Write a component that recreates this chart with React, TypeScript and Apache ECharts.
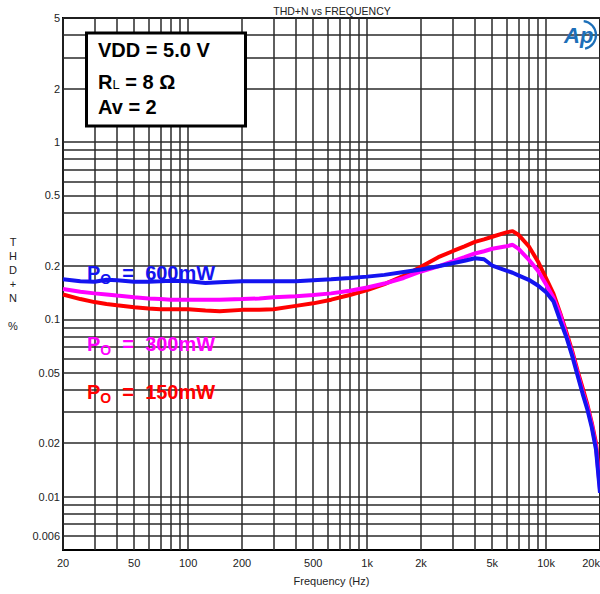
import React, { useEffect, useRef } from 'react';
import * as echarts from 'echarts';

const freqHz = [20, 25, 30, 35, 40, 50, 60, 70, 80, 100, 125, 150, 200, 250, 300, 400, 500, 630, 800, 1000, 1250, 1600, 2000, 2500, 3000, 3500, 4000, 4500, 5000, 6000, 6500, 7000, 8000, 9000, 10000, 11000, 12000, 13000, 14000, 15000, 16000, 17000, 18000, 19000, 20000];
const thd600 = [0.168, 0.164, 0.163, 0.167, 0.166, 0.163, 0.163, 0.164, 0.165, 0.164, 0.160, 0.162, 0.164, 0.164, 0.164, 0.164, 0.166, 0.168, 0.171, 0.174, 0.178, 0.185, 0.191, 0.199, 0.207, 0.214, 0.221, 0.218, 0.201, 0.188, 0.183, 0.177, 0.167, 0.155, 0.142, 0.126, 0.098, 0.079, 0.062, 0.048, 0.038, 0.031, 0.0245, 0.0184, 0.0105];
const thd300 = [0.148, 0.143, 0.140, 0.138, 0.136, 0.133, 0.131, 0.130, 0.129, 0.129, 0.129, 0.129, 0.130, 0.131, 0.133, 0.135, 0.137, 0.140, 0.145, 0.151, 0.159, 0.171, 0.186, 0.199, 0.212, 0.224, 0.235, 0.242, 0.250, 0.258, 0.263, 0.250, 0.217, 0.188, 0.157, 0.132, 0.106, 0.081, 0.064, 0.0495, 0.039, 0.032, 0.0253, 0.019, 0.0110];
const thd150 = [0.138, 0.130, 0.125, 0.122, 0.120, 0.117, 0.115, 0.114, 0.114, 0.114, 0.112, 0.111, 0.113, 0.113, 0.114, 0.119, 0.123, 0.129, 0.137, 0.146, 0.158, 0.176, 0.198, 0.224, 0.242, 0.258, 0.273, 0.282, 0.292, 0.309, 0.314, 0.300, 0.258, 0.212, 0.170, 0.139, 0.108, 0.084, 0.066, 0.051, 0.041, 0.033, 0.026, 0.020, 0.0118];

const xGridValues = [20, 30, 40, 50, 60, 70, 80, 90, 100, 200, 300, 400, 500, 600, 700, 800, 900, 1000, 2000, 3000, 4000, 5000, 6000, 7000, 8000, 9000, 10000, 20000];
const yGridValues = [0.006, 0.007, 0.008, 0.009, 0.01, 0.02, 0.03, 0.04, 0.05, 0.06, 0.07, 0.08, 0.09, 0.1, 0.2, 0.3, 0.4, 0.5, 0.6, 0.7, 0.8, 0.9, 1, 2, 3, 4, 5];
const xTickValues = [20, 50, 100, 200, 500, 1000, 2000, 5000, 10000, 20000];
const xTickTexts = ['20', '50', '100', '200', '500', '1k', '2k', '5k', '10k', '20k'];
const yTickValues = [5, 2, 1, 0.5, 0.2, 0.1, 0.05, 0.02, 0.01, 0.006];
const yTickTexts = ['5', '2', '1', '0.5', '0.2', '0.1', '0.05', '0.02', '0.01', '0.006'];

const FONT = "'Liberation Sans', Arial, sans-serif";
const BLUE = '#1414f0';
const MAGENTA = '#ff00ff';
const RED = '#ff0000';

function pairs(values: number[]) {
  return freqHz.map((f, i) => [f, values[i]]);
}

export default function App() {
  const ref = useRef<HTMLDivElement>(null);
  useEffect(() => {
    const chart = echarts.init(ref.current!, null, { renderer: 'svg' });
    const axisLabelStyle = { color: '#222', fontSize: 11, fontFamily: FONT };
    const xLines = xGridValues.map((v) => {
      const idx = xTickValues.indexOf(v);
      return {
        xAxis: v,
        label: idx >= 0
          ? { show: true, formatter: xTickTexts[idx], position: 'start', distance: 7, ...axisLabelStyle, ...(v === 20000 ? { align: 'right' } : {}) }
          : { show: false },
      };
    });
    const yLines = yGridValues.map((v) => {
      const idx = yTickValues.indexOf(v);
      return {
        yAxis: v,
        label: idx >= 0
          ? { show: true, formatter: yTickTexts[idx], position: 'start', distance: 3, ...axisLabelStyle }
          : { show: false },
      };
    });
    const pLabel = (y: number, value: string, color: string) => ({
      type: 'text',
      x: 87,
      y,
      z: 100,
      style: {
        text: '{p|P}{s|O}{p|  =  ' + value + '}',
        fill: color,
        align: 'left',
        verticalAlign: 'top',
        rich: {
          p: { fontSize: 20, lineHeight: 20, fontWeight: 'bold', fontFamily: FONT, fill: color, verticalAlign: 'top' },
          s: { fontSize: 14, lineHeight: 14, fontWeight: 'bold', fontFamily: FONT, fill: color, verticalAlign: 'top', padding: [9, 0, 0, 0] },
        },
      },
    });
    chart.setOption({
      animation: false,
      backgroundColor: '#fff',
      title: {
        text: 'THD+N vs FREQUENCY',
        left: 332,
        top: 5,
        padding: 0,
        textAlign: 'center',
        textStyle: { fontSize: 10.5, fontWeight: 'normal', color: '#222', fontFamily: FONT },
      },
      grid: { left: 63, right: 0, top: 18, bottom: 44, show: true, borderColor: '#000', borderWidth: 2, backgroundColor: 'transparent', outerBoundsMode: 'none' },
      xAxis: {
        type: 'log',
        logBase: 10,
        min: 20,
        max: 20000,
        axisLine: { show: false },
        axisTick: { show: false },
        axisLabel: { show: false },
        splitLine: { show: false },
        name: 'Frequency (Hz)',
        nameLocation: 'middle',
        nameGap: 25,
        nameTextStyle: { color: '#222', fontSize: 11, fontFamily: FONT },
      },
      yAxis: {
        type: 'log',
        logBase: 10,
        min: 0.005,
        max: 5,
        axisLine: { show: false },
        axisTick: { show: false },
        axisLabel: { show: false },
        splitLine: { show: false },
        name: 'T\nH\nD\n+\nN\n\n%',
        nameLocation: 'middle',
        nameRotate: 0,
        nameGap: 50,
        nameTextStyle: { color: '#222', fontSize: 11, fontFamily: FONT, lineHeight: 14, align: 'center', verticalAlign: 'middle' },
      },
      series: [
        {
          name: 'grid',
          type: 'line',
          data: [],
          clip: false,
          silent: true,
          z: 1,
          markLine: {
            silent: true,
            z: 1,
            precision: 6,
            symbol: ['none', 'none'],
            animation: false,
            lineStyle: { color: '#2a2a2a', width: 1.5, type: 'solid' },
            emphasis: { disabled: true },
            label: { show: false },
            data: [...xLines, ...yLines],
          },
        },
        { name: 'Po = 150mW', type: 'line', data: pairs(thd150), showSymbol: false, symbol: 'none', lineStyle: { color: RED, width: 4 }, z: 3 },
        { name: 'Po = 300mW', type: 'line', data: pairs(thd300), showSymbol: false, symbol: 'none', lineStyle: { color: MAGENTA, width: 4 }, z: 4 },
        { name: 'Po = 600mW', type: 'line', data: pairs(thd600), showSymbol: false, symbol: 'none', lineStyle: { color: BLUE, width: 4 }, z: 5 },
      ],
      graphic: [
        { type: 'rect', z: 100, shape: { x: 86.5, y: 33, width: 159, height: 93 }, style: { fill: '#fff', stroke: '#000', lineWidth: 3 } },
        { type: 'text', z: 101, x: 98, y: 40, style: { text: 'VDD = 5.0 V', fill: '#000', fontSize: 20, fontWeight: 'bold', fontFamily: FONT, verticalAlign: 'top', lineHeight: 20 } },
        {
          type: 'text', z: 101, x: 98, y: 72,
          style: {
            text: '{p|R}{s|L}{p| = 8 Ω}', verticalAlign: 'top',
            rich: {
              p: { fontSize: 20, lineHeight: 20, fontWeight: 'bold', fontFamily: FONT, fill: '#000', verticalAlign: 'top' },
              s: { fontSize: 13, lineHeight: 13, fontWeight: 'normal', fontFamily: FONT, fill: '#000', verticalAlign: 'top', padding: [6, 0, 0, 0] },
            },
          },
        },
        { type: 'text', z: 101, x: 98, y: 97, style: { text: 'Av = 2', fill: '#000', fontSize: 20, fontWeight: 'bold', fontFamily: FONT, verticalAlign: 'top', lineHeight: 20 } },
        pLabel(263, '600mW', BLUE),
        pLabel(334, '300mW', MAGENTA),
        pLabel(382, '150mW', RED),
        { type: 'arc', z: 101, shape: { cx: 582, cy: 35, r: 14, startAngle: -1.45, endAngle: 1.35, clockwise: true }, style: { stroke: '#1d6fb8', lineWidth: 2.2, fill: 'none' } },
        { type: 'text', z: 102, x: 564, y: 24, style: { text: 'Ap', fill: '#1d6fb8', fontSize: 22, fontStyle: 'italic', fontWeight: 'bold', fontFamily: FONT, verticalAlign: 'top' } },
      ],
    });
    return () => chart.dispose();
  }, []);
  return <div ref={ref} style={{ position: 'fixed', left: 0, top: 0, width: 600, height: 594, background: '#fff' }} />;
}
